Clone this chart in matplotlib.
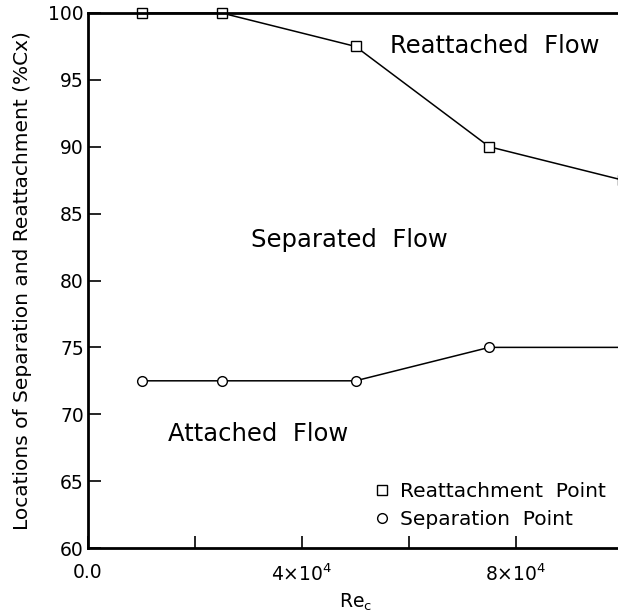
import matplotlib
matplotlib.use("Agg")
import matplotlib.pyplot as plt
from matplotlib.lines import Line2D

# data
re_reattach = [1e4, 2.5e4, 5e4, 7.5e4, 1e5]
x_reattach = [100.0, 100.0, 97.5, 90.0, 87.5]
re_sep = [1e4, 2.5e4, 5e4, 7.5e4, 1e5]
x_sep = [72.5, 72.5, 72.5, 75.0, 75.0]

xticks = [0, 2e4, 4e4, 6e4, 8e4, 1e5]
xticklabels = ["0.0", "", r"4$\times$10$^4$", "", r"8$\times$10$^4$", ""]
yticks = [60, 65, 70, 75, 80, 85, 90, 95, 100]

plt.rcParams["font.family"] = ["DejaVu Sans"]
plt.rcParams["mathtext.fontset"] = "dejavusans"

W, H = 618, 613
fig = plt.figure(figsize=(W / 100, H / 100), dpi=100)
ax = fig.add_axes([88 / W, 65 / H, 535 / W, 535 / H])

ax.plot(re_reattach, x_reattach, color="black", lw=1.1, marker="s", ms=7,
        mfc="white", mec="black", mew=1.0, clip_on=False)
ax.plot(re_sep, x_sep, color="black", lw=1.1, marker="o", ms=7,
        mfc="white", mec="black", mew=1.0, clip_on=False)

ax.set_xlim(0, 1e5)
ax.set_ylim(60, 100)
ax.set_xticks(xticks)
ax.set_xticklabels(xticklabels)
ax.set_yticks(yticks)
ax.tick_params(direction="in", length=9, width=1.2, labelsize=13.5)
ax.tick_params(axis="x", pad=11)
ax.tick_params(axis="y", pad=3)
for s in ax.spines.values():
    s.set_linewidth(2)

ax.set_xlabel(r"Re$_\mathrm{c}$", fontsize=13.5, labelpad=5)
ax.set_ylabel("Locations of Separation and Reattachment (%Cx)", fontsize=14.5, labelpad=12)

tkw = dict(fontsize=17.5, ha="left", va="center")
ax.text(5.65e4, 97.5, "Reattached  Flow", **tkw)
ax.text(3.05e4, 83.0, "Separated  Flow", **tkw)
ax.text(1.5e4, 68.5, "Attached  Flow", **tkw)

handles = [
    Line2D([], [], ls="none", marker="s", ms=7, mfc="white", mec="black", mew=1.0),
    Line2D([], [], ls="none", marker="o", ms=7, mfc="white", mec="black", mew=1.0),
]
ax.legend(handles, ["Reattachment  Point", "Separation  Point"], loc="lower left",
          bbox_to_anchor=(0.5, 0.002), frameon=False, fontsize=14.5,
          handlelength=0.8, handletextpad=0.5, labelspacing=0.45)

fig.savefig("out.png", dpi=100)
